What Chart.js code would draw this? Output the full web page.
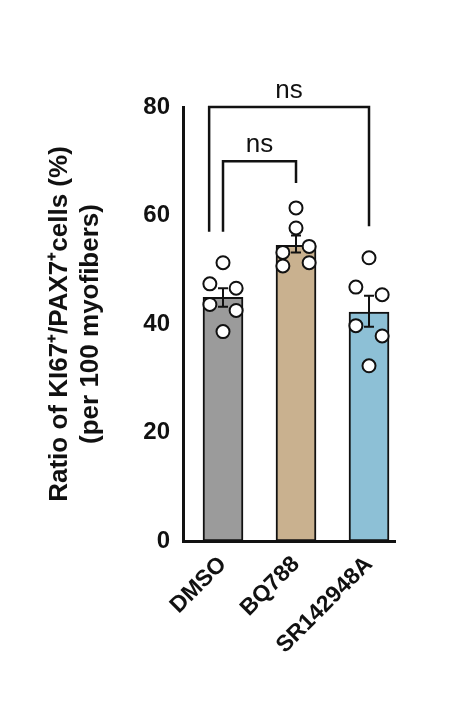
<!DOCTYPE html>
<html>
<head>
<meta charset="utf-8">
<script src="https://cdn.jsdelivr.net/npm/chart.js@4"></script>
<style>
  body { margin: 0; background: #fff; }
  #wrap { width: 466px; height: 706px; }
</style>
</head>
<body>
<div id="wrap"><canvas id="c"></canvas></div>
<script>
const categories = ['DMSO', 'BQ788', 'SR142948A'];
const means = [44.9, 54.5, 42.2];
const errLow = [43.2, 53.2, 39.5];
const errHigh = [46.6, 56.3, 45.2];
const points = [
    [51.3, 47.4, 46.6, 43.6, 42.5, 38.6],
    [61.4, 57.7, 54.3, 53.2, 51.3, 50.7],
    [52.2, 46.8, 45.4, 39.7, 37.8, 32.3]
];
const pointOffsets = [
    [0, -0.18, 0.18, -0.18, 0.18, 0],
    [0, 0, 0.18, -0.18, 0.18, -0.18],
    [0, -0.18, 0.18, -0.18, 0.18, 0]
];
const barColors = ['#9b9b9b', '#c9b18f', '#8dc0d6'];
const yTicks = [0, 20, 40, 60, 80];
// brackets: [x1, x2, top, leg1 bottom, leg2 bottom, label]
const brackets = [
    [-0.19, 2, 80, 57, 58, 'ns'],
    [0, 1, 70, 57, 66, 'ns']
];

const scatterData = [];
points.forEach((arr, i) => {
    arr.forEach((v, j) => scatterData.push({ x: i + pointOffsets[i][j], y: v }));
});

const overlay = {
    id: 'overlay',
    afterDatasetsDraw(chart) {
        const { ctx, scales: { x, y } } = chart;
        ctx.save();
        ctx.strokeStyle = '#111';
        ctx.lineWidth = 2;
        means.forEach((m, i) => {
            const cx = x.getPixelForValue(i);
            ctx.beginPath();
            ctx.moveTo(cx, y.getPixelForValue(errLow[i]));
            ctx.lineTo(cx, y.getPixelForValue(errHigh[i]));
            [errLow[i], errHigh[i]].forEach(v => {
                ctx.moveTo(cx - 5, y.getPixelForValue(v));
                ctx.lineTo(cx + 5, y.getPixelForValue(v));
            });
            ctx.stroke();
        });
        ctx.lineWidth = 2.5;
        ctx.fillStyle = '#111';
        ctx.font = '26px Arial, "Liberation Sans", sans-serif';
        ctx.textAlign = 'center';
        ctx.textBaseline = 'bottom';
        brackets.forEach(b => {
            const x1 = x.getPixelForValue(b[0]);
            const x2 = x.getPixelForValue(b[1]);
            const yt = y.getPixelForValue(b[2]);
            ctx.beginPath();
            ctx.moveTo(x1, y.getPixelForValue(b[3]));
            ctx.lineTo(x1, yt);
            ctx.lineTo(x2, yt);
            ctx.lineTo(x2, y.getPixelForValue(b[4]));
            ctx.stroke();
            ctx.fillText(b[5], (x1 + x2) / 2, yt - 3);
        });
        ctx.restore();
    }
};

new Chart(document.getElementById('c'), {
    data: {
        datasets: [
            {
                type: 'scatter',
                data: scatterData,
                backgroundColor: '#fff',
                borderColor: '#111',
                borderWidth: 2,
                pointRadius: 6.5,
                order: 0
            },
            {
                type: 'bar',
                data: means.map((v, i) => ({ x: i, y: v })),
                backgroundColor: barColors,
                borderColor: '#111',
                borderWidth: 2,
                barThickness: 40,
                borderSkipped: false,
                order: 1
            }
        ]
    },
    plugins: [overlay],
    options: {
        responsive: true,
        maintainAspectRatio: false,
        animation: false,
        layout: { padding: { top: 107, right: 71, left: 40, bottom: 20 } },
        plugins: { legend: { display: false }, tooltip: { enabled: false } },
        scales: {
            x: {
                type: 'linear',
                offset: false,
                min: -0.548,
                max: 2.356,
                afterBuildTicks: s => { s.ticks = [0, 1, 2].map(v => ({ value: v })); },
                grid: { display: false, drawTicks: false, offset: false },
                border: { color: '#111', width: 3 },
                ticks: {
                    color: '#111',
                    maxRotation: 45,
                    minRotation: 45,
                    padding: 10,
                    font: { size: 23, weight: 'bold', family: 'Arial, "Liberation Sans", sans-serif' },
                    callback: v => categories[v]
                },
                afterFit: s => { s.height = 145; }
            },
            y: {
                min: 0,
                max: 80,
                afterBuildTicks: s => { s.ticks = yTicks.map(v => ({ value: v })); },
                grid: { display: false, drawTicks: true, tickLength: 9, tickWidth: 3, tickColor: '#111' },
                border: { color: '#111', width: 3 },
                ticks: {
                    color: '#111',
                    padding: 4,
                    font: { size: 24, weight: 'bold', family: 'Arial, "Liberation Sans", sans-serif' }
                },
                title: {
                    display: true,
                    text: ['Ratio of KI67\u207A/PAX7\u207Acells (%)', '(per 100 myofibers)'],
                    color: '#111',
                    font: { size: 26, weight: 'bold', family: 'Arial, "Liberation Sans", sans-serif' },
                    padding: 4
                },
                afterFit: s => { s.width = 143; }
            }
        }
    }
});
</script>
</body>
</html>
